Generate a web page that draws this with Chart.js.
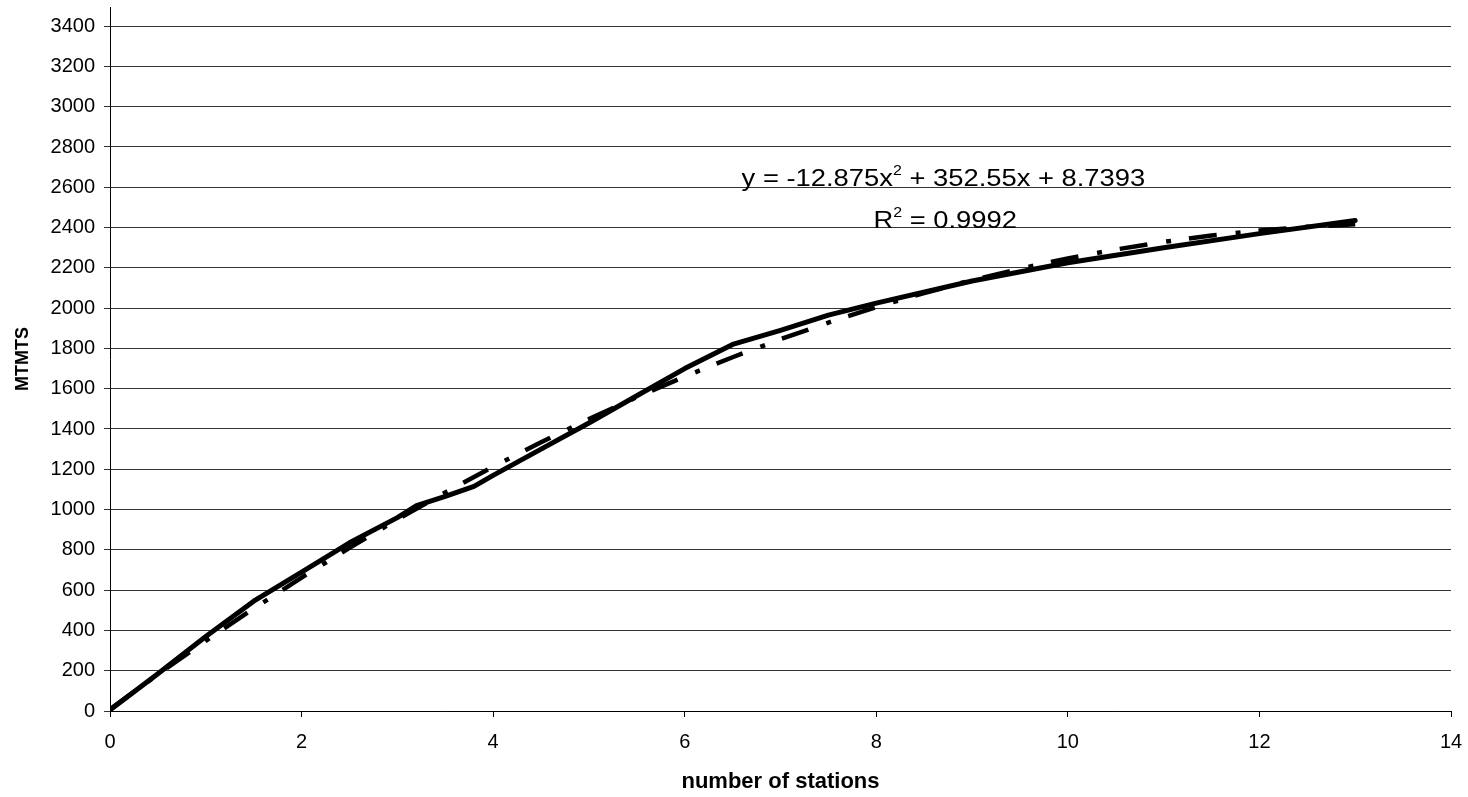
<!DOCTYPE html>
<html>
<head>
<meta charset="utf-8">
<title>MTMTS vs number of stations</title>
<script src="https://cdn.jsdelivr.net/npm/chart.js@4.4.1/dist/chart.umd.min.js"></script>
<style>
  html, body { margin: 0; padding: 0; background: #fff; }
  #wrap { width: 1468px; height: 797px; }
</style>
</head>
<body>
<div id="wrap"><canvas id="myChart" width="1468" height="797"></canvas></div>
<script>
// measured series
var stations = [0, 0.5, 1, 1.5, 2, 2.5, 3, 3.2, 3.5, 3.8, 4, 4.5, 5, 5.5, 6, 6.5, 7, 7.5, 8, 9, 10, 11, 12, 13];
var mtmts = [5, 185, 370, 545, 690, 835, 960, 1020, 1065, 1115, 1170, 1300, 1430, 1565, 1700, 1820, 1890, 1965, 2025, 2135, 2225, 2300, 2370, 2435];

// polynomial trendline (order 2)
var trendX = [0, 0.5, 1, 1.5, 2, 2.5, 3, 3.5, 4, 4.5, 5, 5.5, 6, 6.5, 7, 7.5, 8, 8.5, 9, 9.5, 10, 10.5, 11, 11.5, 12, 12.5, 13];
var trendY = [8.7, 181.8, 348.4, 508.6, 662.3, 809.6, 950.5, 1084.9, 1212.9, 1334.5, 1449.6, 1558.3, 1660.5, 1756.3, 1845.7, 1928.6, 2005.1, 2075.2, 2138.8, 2196.0, 2246.7, 2291.0, 2328.9, 2360.3, 2385.3, 2403.9, 2416.0];

var yTicks = [0, 200, 400, 600, 800, 1000, 1200, 1400, 1600, 1800, 2000, 2200, 2400, 2600, 2800, 3000, 3200, 3400];
var xTicks = [0, 2, 4, 6, 8, 10, 12, 14];

var eqText = ["y = -12.875x", "2", " + 352.55x + 8.7393"];
var r2Text = ["R", "2", " = 0.9992"];

var FONT = "'Liberation Sans', Arial, sans-serif";

function toPoints(xs, ys) {
  var out = [];
  for (var i = 0; i < xs.length; i++) out.push({ x: xs[i], y: ys[i] });
  return out;
}

function plainNumber(value) {
  return String(value);
}

// text with a raised "2" in the middle; the label font is a little wide
function drawSup(ctx, parts, x, y) {
  ctx.save();
  ctx.translate(x, y);
  ctx.scale(1.14, 1);
  var cx = 0;
  ctx.font = "24px " + FONT;
  ctx.fillText(parts[0], cx, 0);
  cx += ctx.measureText(parts[0]).width;
  ctx.font = "14px " + FONT;
  ctx.fillText(parts[1], cx, -11);
  cx += ctx.measureText(parts[1]).width;
  ctx.font = "24px " + FONT;
  ctx.fillText(parts[2], cx, 0);
  ctx.restore();
}

var trendLabel = {
  id: "trendLabel",
  afterDatasetsDraw: function (chart) {
    var ctx = chart.ctx;
    var sx = chart.scales.x, sy = chart.scales.y;
    ctx.save();
    ctx.fillStyle = "#000";
    ctx.textAlign = "left";
    ctx.textBaseline = "alphabetic";
    drawSup(ctx, eqText, sx.getPixelForValue(6.594), sy.getPixelForValue(2607));
    drawSup(ctx, r2Text, sx.getPixelForValue(7.97), sy.getPixelForValue(2397));
    ctx.restore();
  }
};

var ctx = document.getElementById("myChart");

new Chart(ctx, {
  type: "scatter",
  data: {
    datasets: [
      {
        label: "MTMTS",
        data: toPoints(stations, mtmts),
        showLine: true,
        borderColor: "#000",
        borderWidth: 5,
        pointRadius: 0,
        tension: 0,
        borderCapStyle: "round",
        borderJoinStyle: "round"
      },
      {
        label: "Poly. (MTMTS)",
        data: toPoints(trendX, trendY),
        showLine: true,
        borderColor: "#000",
        borderWidth: 4.5,
        borderDash: [28, 19, 5, 18],
        borderCapStyle: "butt",
        pointRadius: 0,
        tension: 0
      }
    ]
  },
  options: {
    responsive: false,
    animation: false,
    layout: { padding: { top: 7, right: 17, left: 0, bottom: 0 } },
    plugins: {
      legend: { display: false },
      tooltip: { enabled: false }
    },
    scales: {
      x: {
        type: "linear",
        min: 0,
        max: 14,
        afterBuildTicks: function (scale) {
          scale.ticks = xTicks.map(function (v) { return { value: v }; });
        },
        afterFit: function (scale) {
          scale.height = 86;
          scale.paddingLeft = 0;
          scale.paddingRight = 0;
        },
        border: { color: "#000", width: 1 },
        grid: { drawOnChartArea: false, drawTicks: true, tickLength: 6, color: "#000" },
        ticks: { color: "#000", font: { family: FONT, size: 20 }, padding: 13, maxRotation: 0, callback: plainNumber },
        title: {
          display: true,
          text: "number of stations",
          color: "#000",
          font: { family: FONT, size: 22, weight: "bold" },
          padding: { top: 2, bottom: 2 }
        }
      },
      y: {
        type: "linear",
        min: 0,
        max: 3495,
        afterBuildTicks: function (scale) {
          scale.ticks = yTicks.map(function (v) { return { value: v }; });
        },
        afterFit: function (scale) {
          scale.width = 110;
          scale.paddingTop = 0;
          scale.paddingBottom = 0;
        },
        border: { color: "#000", width: 1 },
        grid: { drawOnChartArea: true, drawTicks: true, tickLength: 6, color: "#333", lineWidth: 1 },
        ticks: { color: "#000", font: { family: FONT, size: 20 }, padding: 9, callback: plainNumber },
        title: {
          display: true,
          text: "MTMTS",
          color: "#000",
          font: { family: FONT, size: 18, weight: "bold" },
          padding: { top: 12.5, bottom: 12.5 }
        }
      }
    }
  },
  plugins: [trendLabel]
});
</script>
</body>
</html>
